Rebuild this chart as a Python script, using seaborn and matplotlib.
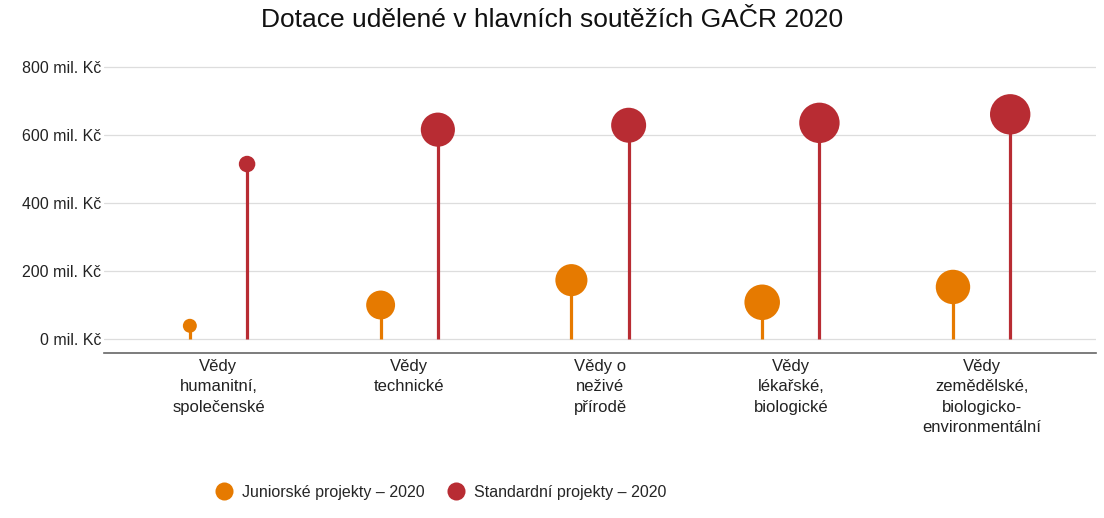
import pandas as pd
import matplotlib.pyplot as plt
import seaborn as sns
from matplotlib.lines import Line2D

# data
categories = [
    'Vědy\nhumanitní,\nspolečenské',
    'Vědy\ntechnické',
    'Vědy o\nneživé\npřírodě',
    'Vědy\nlékařské,\nbiologické',
    'Vědy\nzemědělské,\nbiologicko-\nenvironmentální',
]
junior_values = [40, 101, 174, 109, 154]      # mil. Kč
standard_values = [515, 616, 629, 636, 661]   # mil. Kč
junior_counts = [10, 43, 53, 65, 61]          # bubble size (estimated)
standard_counts = [14, 60, 63, 84, 84]
series_names = ['Juniorské projekty – 2020', 'Standardní projekty – 2020']
y_ticks = [0, 200, 400, 600, 800]

colors = {series_names[0]: '#E67A00', series_names[1]: '#B82C33'}
offsets = {series_names[0]: -0.15, series_names[1]: 0.15}

sns.set_theme(style="white")
plt.rcParams['font.family'] = ['Liberation Sans', 'DejaVu Sans']

rows = []
for i, cat in enumerate(categories):
    rows.append((i, series_names[0], junior_values[i], junior_counts[i]))
    rows.append((i, series_names[1], standard_values[i], standard_counts[i]))
df = pd.DataFrame(rows, columns=['idx', 'series', 'value', 'count'])
df['x'] = df['idx'] + df['series'].map(offsets)

fig = plt.figure(figsize=(11.04, 5.18), dpi=100)
ax = fig.add_axes([0.0942, 0.3185, 0.8986, 0.5653])

for name, g in df.groupby('series'):
    ax.vlines(g['x'], 0, g['value'], color=colors[name], lw=2.3, zorder=2)

sns.scatterplot(data=df, x='x', y='value', hue='series', size='count',
                sizes=(101, 846), palette=colors, linewidth=0, legend=False,
                ax=ax, zorder=3, alpha=1)

ax.set_xlim(-0.6, 4.6)
ax.set_ylim(-40, 820)
ax.set_yticks(y_ticks)
ax.set_yticklabels([f'{v} mil. Kč' for v in y_ticks], fontsize=11.5, color='#222222')
ax.set_xticks(range(len(categories)))
ax.set_xticklabels(categories, fontsize=12, color='#222222', linespacing=1.47, va='top')
ax.tick_params(axis='both', length=0)
ax.tick_params(axis='y', pad=2)
ax.tick_params(axis='x', pad=4)
ax.set_xlabel('')
ax.set_ylabel('')

for v in y_ticks:
    ax.axhline(v, color='#dddddd', lw=0.9, zorder=0)

for side in ['top', 'right', 'left']:
    ax.spines[side].set_visible(False)
ax.spines['bottom'].set_color('#666666')
ax.spines['bottom'].set_linewidth(1.2)

fig.suptitle('Dotace udělené v hlavních soutěžích GAČR 2020', fontsize=19,
             x=0.5, y=0.985, va='top', color='#111111')

handles = [Line2D([0], [0], marker='o', color='none', markerfacecolor=colors[n],
                  markeredgewidth=0, markersize=13) for n in series_names]
fig.legend(handles, series_names, loc='center', bbox_to_anchor=(0.399, 0.05),
           ncol=2, frameon=False, fontsize=11.5, handletextpad=0.5,
           columnspacing=1.4, handlelength=1.2)

fig.savefig('out.png', dpi=100)
